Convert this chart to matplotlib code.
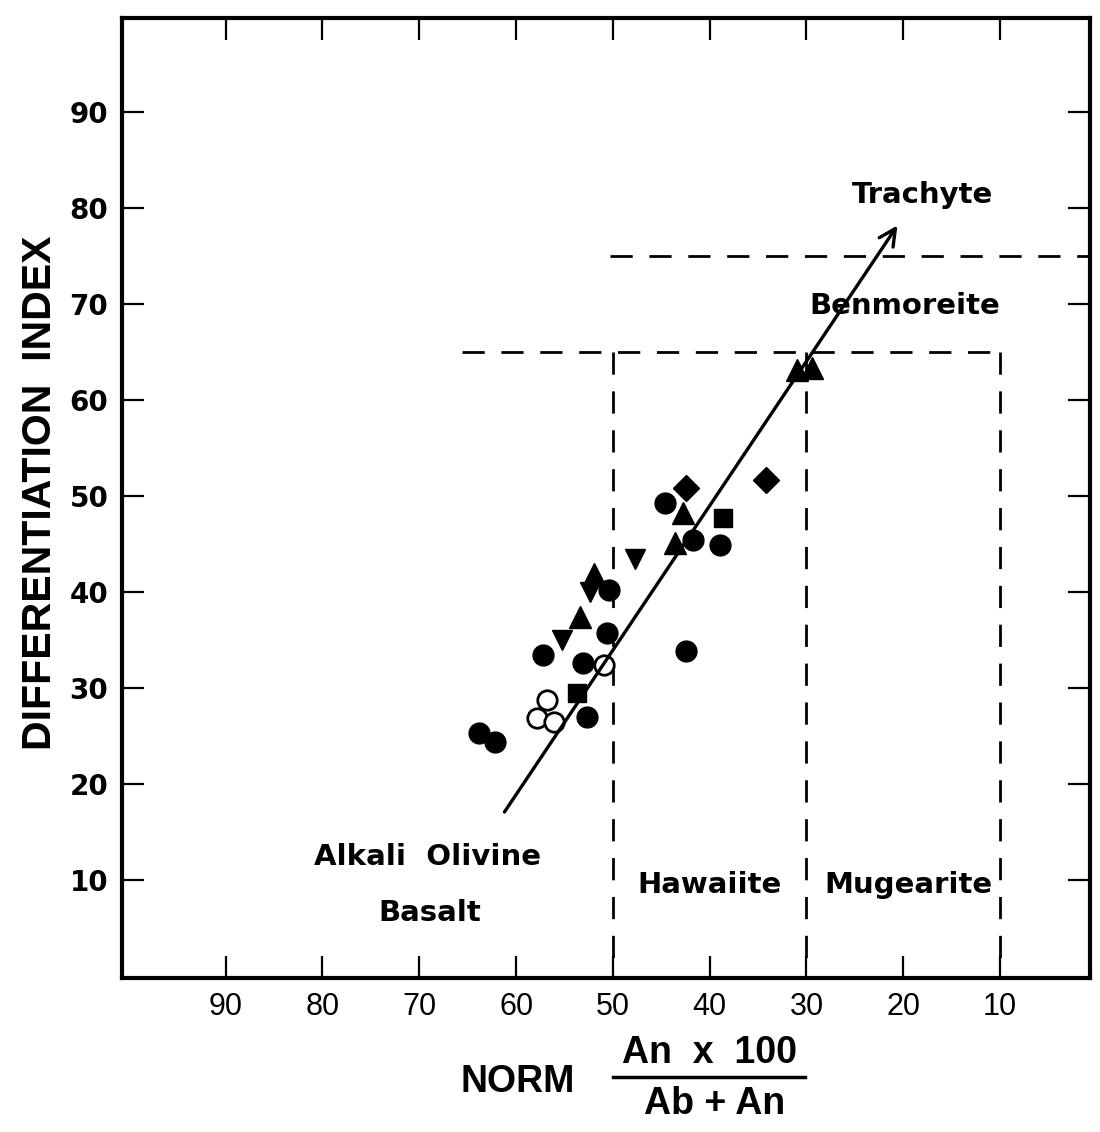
import matplotlib
matplotlib.use("Agg")
import matplotlib.pyplot as plt
from matplotlib.lines import Line2D

# data (x = norm An*100/(Ab+An), y = differentiation index)
circ_x = [44.6, 41.7, 38.9, 50.4, 50.6, 57.2, 42.4, 53.1, 52.7, 63.8, 62.2]
circ_y = [49.3, 45.4, 44.9, 40.2, 35.7, 33.5, 33.9, 32.6, 27.0, 25.3, 24.4]
open_x = [50.9, 56.8, 57.8, 56.1]
open_y = [32.4, 28.8, 26.9, 26.5]
tri_x = [42.8, 43.6, 52.0, 53.4, 31.0, 29.4]
tri_y = [48.2, 45.1, 41.9, 37.4, 63.1, 63.4]
tdown_x = [47.7, 52.4, 55.3]
tdown_y = [43.5, 40.0, 35.0]
sq_x = [38.6, 53.7]
sq_y = [47.7, 29.5]
dia_x = [42.4, 34.2]
dia_y = [50.8, 51.7]

ticks = [10, 20, 30, 40, 50, 60, 70, 80, 90]

# field boundaries
bound_di_low = 65
bound_di_high = 75
bound_an = [50, 30, 10]

trend_start = (61.2, 17.1)
trend_end = (20.6, 78.2)

fig = plt.figure(figsize=(11, 11.32), dpi=100)
ax = fig.add_axes([0.111, 0.136, 0.88, 0.848])
ax.set_xlim(100.7, 0.7)
ax.set_ylim(-0.2, 99.8)

for s in ax.spines.values():
    s.set_linewidth(3)
ax.set_xticks(ticks)
ax.set_yticks(ticks)
ax.tick_params(direction="in", length=16, width=1.6, top=True, right=True, pad=10)
for lab in ax.get_xticklabels():
    lab.set_fontfamily("Liberation Sans")
    lab.set_fontsize(22)
for lab in ax.get_yticklabels():
    lab.set_fontfamily("DejaVu Sans")
    lab.set_fontweight("bold")
    lab.set_fontsize(20)

dash = dict(color="black", lw=2, linestyle=(0, (8, 6)))
ax.plot([50.3, 0.7], [bound_di_high, bound_di_high], **dash)
ax.plot([65.6, 10], [bound_di_low, bound_di_low], **dash)
for xb in bound_an:
    ax.plot([xb, xb], [bound_di_low, 1.5], **dash)

ax.annotate("", xy=trend_end, xytext=trend_start,
            arrowprops=dict(arrowstyle="->", lw=2.4, color="black",
                            mutation_scale=30, shrinkA=0, shrinkB=0))

ms = 15
ax.plot(tdown_x, tdown_y, "v", color="black", ms=ms, ls="none")
ax.plot(tri_x, tri_y, "^", color="black", ms=ms + 1, ls="none")
ax.plot(sq_x, sq_y, "s", color="black", ms=ms - 2, ls="none")
ax.plot(dia_x, dia_y, "D", color="black", ms=ms - 2, ls="none")
ax.plot(circ_x, circ_y, "o", color="black", ms=ms, ls="none")
ax.plot(open_x, open_y, "o", mfc="white", mec="black", mew=2, ms=ms - 1, ls="none")

lbl = dict(fontsize=21, fontweight="bold", family="DejaVu Sans", ha="center", va="center")
ax.text(18.0, 81.4, "Trachyte", **lbl)
ax.text(19.8, 69.8, "Benmoreite", **lbl)
ax.text(69.1, 12.4, "Alkali  Olivine", **lbl)
ax.text(68.9, 6.6, "Basalt", **lbl)
ax.text(40.0, 9.5, "Hawaiite", **lbl)
ax.text(19.5, 9.5, "Mugearite", **lbl)

fig.text(0.036, 0.5645, "DIFFERENTIATION  INDEX", rotation=90, ha="center", va="center",
         fontsize=29.5, fontweight="bold", family="Liberation Sans")

lab_font = dict(fontsize=27, fontweight="bold", family="Liberation Sans",
                ha="center", va="center")
fig.text(0.471, 0.044, "NORM", **lab_font)
fig.text(0.645, 0.070, "An  x  100", **lab_font)
fig.text(0.650, 0.0247, "Ab + An", **lab_font)
fig.add_artist(Line2D([0.557, 0.732], [0.0486, 0.0486], color="black", lw=2.5,
                      transform=fig.transFigure))

fig.savefig("out.png", dpi=100)
